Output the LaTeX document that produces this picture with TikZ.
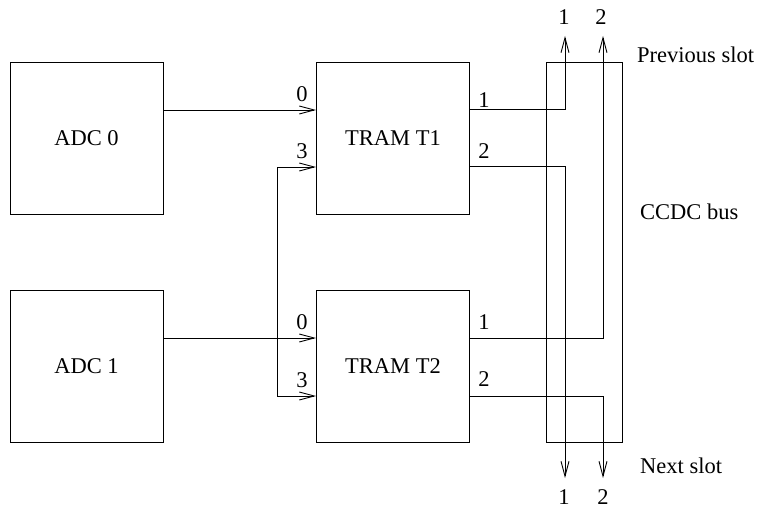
\documentclass[tikz,border=0pt]{standalone}
\usepackage{fontspec}
\setmainfont{Liberation Serif}
\usetikzlibrary{arrows.meta, positioning}

\begin{document}
\begin{tikzpicture}[x=1pt, y=-1pt,
  unit/.style={draw, line width=0.9pt, minimum width=153pt, minimum height=152pt,
               font=\fontsize{22.5}{26}\selectfont},
  sig/.style={line width=0.9pt, -{Straight Barb[length=15pt, width=8pt]}},
  wire/.style={line width=0.9pt},
  port/.style={font=\fontsize{22.5}{26}\selectfont, inner sep=0pt},
  note/.style={font=\fontsize{22.5}{26}\selectfont, inner sep=0pt, anchor=west}
]
  \useasboundingbox (0,0) rectangle (760,511);

  % Converters and TRAMs
  \node[unit] (adc0) at (86.5,138) {ADC 0};
  \node[unit] (adc1) at (86.5,366) {ADC 1};
  \node[unit] (tram1) at (393,138) {TRAM T1};
  \node[unit] (tram2) at (393,366) {TRAM T2};

  % CCDC bus
  \node[draw, line width=0.9pt, minimum width=76pt, minimum height=380pt,
        inner sep=0pt] (bus) at (584,252) {};

  % Input ports
  \coordinate (t1in0) at (316,110);
  \coordinate (t1in3) at (316,167);
  \coordinate (t2in0) at (316,338);
  \coordinate (t2in3) at (316,396);
  \coordinate (split) at (277,338);

  \draw[sig] (adc0.east |- t1in0) -- (t1in0);
  \draw[sig] (adc1.east |- t2in0) -- (t2in0);
  \draw[sig] (split) -- (split |- t1in3) -- (t1in3);
  \draw[sig] (split) -- (split |- t2in3) -- (t2in3);

  \node[port] (l10) at (302,94) {0};
  \node[port] (l13) at (302,151) {3};
  \node[port] (l20) at (302,322) {0};
  \node[port] (l23) at (302,380) {3};

  % Output lines through the bus
  \coordinate (up1) at (565,36);
  \coordinate (up2) at (603,36);
  \coordinate (dn1) at (565,478);
  \coordinate (dn2) at (603,478);

  \draw[sig] (470,109) -| (up1);
  \draw[sig] (470,166) -| (dn1);
  \draw[sig] (470,338) -| (up2);
  \draw[sig] (470,396) -| (dn2);

  \node[port] (o11) at (484,100) {1};
  \node[port] (o12) at (484,151) {2};
  \node[port] (o21) at (484,322) {1};
  \node[port] (o22) at (484,379) {2};

  \node[port] (top1) at (564,17) {1};
  \node[port] (top2) at (601,17) {2};
  \node[port] (bot1) at (564,497) {1};
  \node[port] (bot2) at (603,497) {2};

  % Labels
  \node[note] (prev) at (637,55) {Previous slot};
  \node[note] (ccdc) at (640,212) {CCDC bus};
  \node[note] (next) at (640,466) {Next slot};
\end{tikzpicture}
\end{document}
